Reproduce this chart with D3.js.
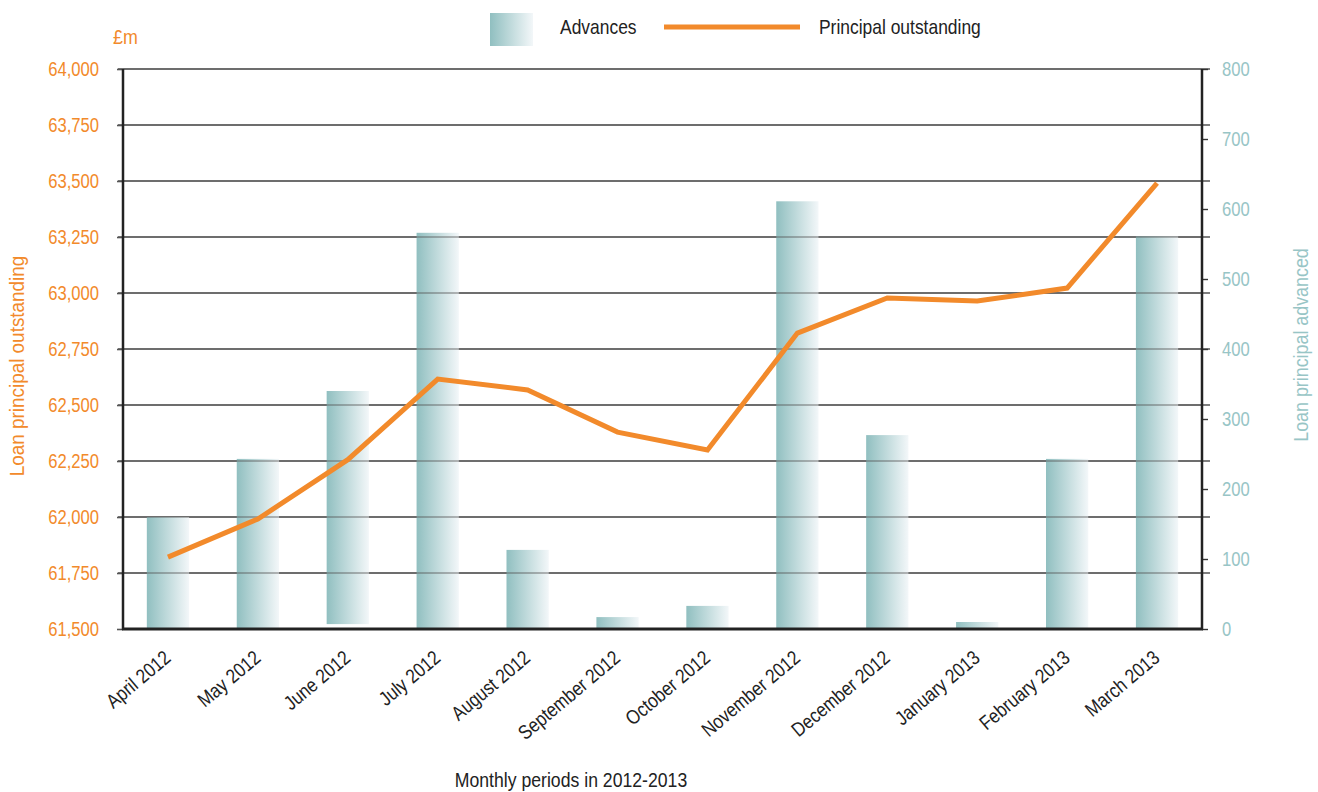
<!DOCTYPE html>
<html><head><meta charset="utf-8">
<script src="https://cdn.jsdelivr.net/npm/d3@7"></script>
<style>
body{margin:0;background:#fff;}
text{font-family:"Liberation Sans Narrow","Arial Narrow","Liberation Sans",sans-serif;}
</style></head>
<body><svg id="c" width="1318" height="792"></svg>
<script>
const months = ["April 2012","May 2012","June 2012","July 2012","August 2012","September 2012","October 2012","November 2012","December 2012","January 2013","February 2013","March 2013"];
const advances = [160,243,340,566,113,17,33,611,277,10,243,561];
const advancesBase = [0,0,7,0,0,0,0,0,0,0,0,0];
const principal = [61821,61991,62256,62616,62567,62379,62299,62821,62978,62964,63022,63491];
const leftTicks = [61500,61750,62000,62250,62500,62750,63000,63250,63500,63750,64000];
const rightTicks = [0,100,200,300,400,500,600,700,800];

const svg = d3.select("#c");
const L=123,R=1202,T=69,B=629;
const orange="#f28a2b", teal="#98c5c6";

function condense(sel, f){
  sel.each(function(){
    const w = this.getComputedTextLength();
    d3.select(this).attr("textLength",(w*f).toFixed(1)).attr("lengthAdjust","spacingAndGlyphs");
  });
}

const defs = svg.append("defs");
const g1 = defs.append("linearGradient").attr("id","bg").attr("x1","0").attr("x2","1").attr("y1","0").attr("y2","0");
g1.append("stop").attr("offset","0").attr("stop-color","#90bfc0");
g1.append("stop").attr("offset","1").attr("stop-color","#f3f7f9");

const x = d3.scaleBand().domain(months).range([L,R]).paddingInner(0.53).paddingOuter(0.265);
const yL = d3.scaleLinear().domain([61500,64000]).range([B,T]);
const yR = d3.scaleLinear().domain([0,800]).range([B,T]);

svg.append("g").selectAll("line").data(leftTicks.slice(1)).join("line")
  .attr("x1",L-5).attr("x2",R+8).attr("y1",d=>yL(d)).attr("y2",d=>yL(d))
  .attr("stroke","#555").attr("stroke-width",1.6);

svg.append("g").selectAll("rect").data(months).join("rect")
  .attr("x",d=>x(d)).attr("width",x.bandwidth())
  .attr("y",(d,i)=>yR(advances[i]))
  .attr("height",(d,i)=>yR(advancesBase[i])-yR(advances[i]))
  .attr("fill","url(#bg)");

svg.append("g").selectAll("line").data(leftTicks.slice(1)).join("line")
  .attr("x1",L).attr("x2",R).attr("y1",d=>yL(d)).attr("y2",d=>yL(d))
  .attr("stroke","#555").attr("stroke-width",1.6).attr("opacity",0.55);

const la = svg.append("g").attr("transform",`translate(${L},0)`)
  .call(d3.axisLeft(yL).tickValues(leftTicks).tickSize(6).tickPadding(18).tickFormat(d3.format(",")));
la.select(".domain").remove();
la.selectAll(".tick line").attr("stroke","#555").attr("stroke-width",1.6);
la.selectAll("text").attr("fill",orange).attr("font-size",20);
condense(la.selectAll("text"),0.83);
svg.append("line").attr("x1",L).attr("x2",L).attr("y1",T).attr("y2",B+1).attr("stroke","#222").attr("stroke-width",2.5);

const ra = svg.append("g").attr("transform",`translate(${R},0)`)
  .call(d3.axisRight(yR).tickValues(rightTicks).tickSize(6).tickPadding(14));
ra.select(".domain").remove();
ra.selectAll(".tick line").attr("stroke","#333").attr("stroke-width",1.4);
ra.selectAll("text").attr("fill",teal).attr("font-size",20);
condense(ra.selectAll("text"),0.83);
svg.append("line").attr("x1",R).attr("x2",R).attr("y1",T).attr("y2",B+1).attr("stroke","#222").attr("stroke-width",2.5);

const xa = svg.append("g").attr("transform",`translate(0,${B})`).call(d3.axisBottom(x).tickSize(0).tickPadding(0));
xa.select(".domain").remove();
xa.selectAll("text").attr("fill","#222").attr("font-size",20)
  .attr("text-anchor","end").attr("dy",0)
  .attr("transform","translate(4,31) rotate(-40)");
condense(xa.selectAll("text"),0.85);
svg.append("line").attr("x1",L-1).attr("x2",R+1).attr("y1",B).attr("y2",B).attr("stroke","#222").attr("stroke-width",3);

const line = d3.line().x((d,i)=>x(months[i])+x.bandwidth()/2).y(d=>yL(d));
svg.append("path").datum(principal).attr("d",line).attr("fill","none")
  .attr("stroke",orange).attr("stroke-width",5);

const t1 = svg.append("text").text("£m").attr("x",113).attr("y",44).attr("fill",orange).attr("font-size",21);
condense(t1,0.85);
const t2 = svg.append("text").text("Loan principal outstanding").attr("transform","translate(24,366) rotate(-90)")
  .attr("text-anchor","middle").attr("fill",orange).attr("font-size",21);
condense(t2,0.9);
const t3 = svg.append("text").text("Loan principal advanced").attr("transform","translate(1308,345) rotate(-90)")
  .attr("text-anchor","middle").attr("fill",teal).attr("font-size",21);
condense(t3,0.85);
const t4 = svg.append("text").text("Monthly periods in 2012-2013").attr("x",571).attr("y",787)
  .attr("text-anchor","middle").attr("fill","#222").attr("font-size",21);
condense(t4,0.84);

svg.append("rect").attr("x",490).attr("y",13).attr("width",43).attr("height",33).attr("fill","url(#bg)");
const t5 = svg.append("text").text("Advances").attr("x",560).attr("y",34).attr("fill","#222").attr("font-size",21);
condense(t5,0.83);
svg.append("line").attr("x1",664).attr("x2",800).attr("y1",27).attr("y2",27).attr("stroke",orange).attr("stroke-width",5);
const t6 = svg.append("text").text("Principal outstanding").attr("x",819).attr("y",34).attr("fill","#222").attr("font-size",21);
condense(t6,0.83);
</script></body></html>
